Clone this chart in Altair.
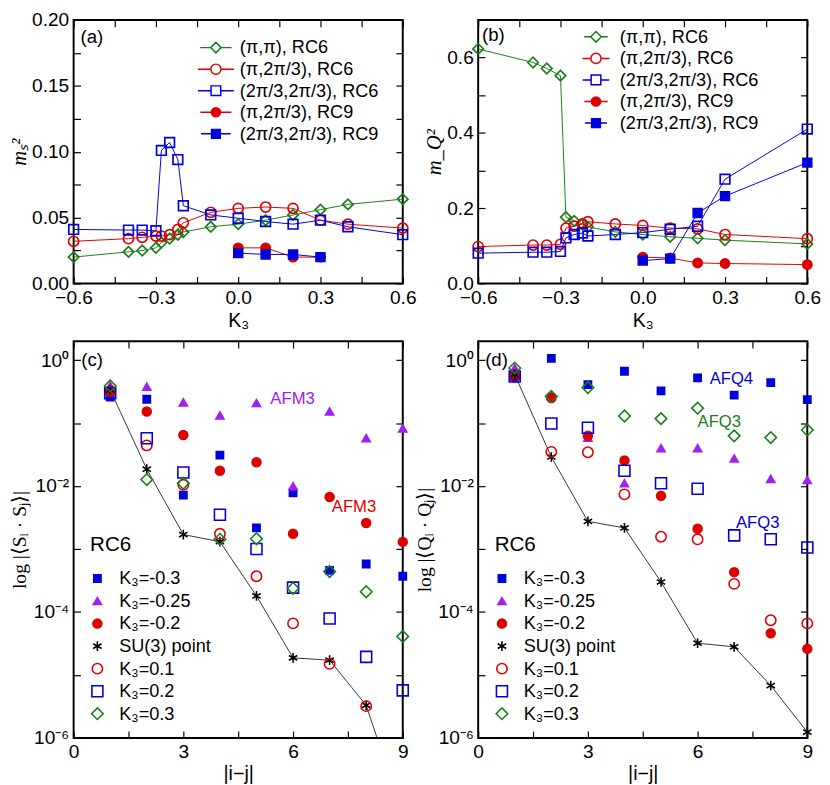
import altair as alt
import pandas as pd

GREEN = "#1b7d1b"
RED = "#dd0000"
BLUE = "#0000dd"
PURPLE = "#a020f0"
BLACK = "#000000"
FONT = "Liberation Sans"
SERIF = "Liberation Serif"
TICK = 7

# ---------------- panel (a): m_S^2 vs K3 ----------------
K_A = [-0.6, -0.4, -0.35, -0.3, -0.28, -0.25, -0.22, -0.2, -0.1, 0.0, 0.1, 0.2, 0.3, 0.4, 0.6]
A_PIPI_RC6 = [0.020, 0.024, 0.025, 0.027, 0.031, 0.034, 0.037, 0.039, 0.043, 0.045, 0.048, 0.052, 0.056, 0.060, 0.064]
A_PI23_RC6 = [0.032, 0.034, 0.035, 0.036, 0.036, 0.037, 0.041, 0.046, 0.054, 0.057, 0.058, 0.057, 0.048, 0.045, 0.042]
A_2323_RC6 = [0.041, 0.0405, 0.0405, 0.040, 0.101, 0.107, 0.094, 0.059, 0.052, 0.0495, 0.047, 0.045, 0.048, 0.043, 0.037]
K_A9 = [0.0, 0.1, 0.2, 0.3]
A_PI23_RC9 = [0.027, 0.027, 0.020, 0.020]
A_2323_RC9 = [0.023, 0.022, 0.022, 0.020]

# ---------------- panel (b): m_Q^2 vs K3 ----------------
K_B = [-0.6, -0.4, -0.35, -0.3, -0.28, -0.25, -0.22, -0.2, -0.1, 0.0, 0.1, 0.2, 0.3, 0.6]
B_PIPI_RC6 = [0.623, 0.587, 0.571, 0.552, 0.176, 0.166, 0.158, 0.150, 0.137, 0.130, 0.124, 0.120, 0.115, 0.105]
B_PI23_RC6 = [0.098, 0.102, 0.102, 0.104, 0.147, 0.152, 0.158, 0.164, 0.158, 0.154, 0.147, 0.145, 0.130, 0.119]
B_2323_RC6 = [0.0805, 0.083, 0.083, 0.085, 0.121, 0.130, 0.134, 0.126, 0.130, 0.135, 0.144, 0.152, 0.277, 0.410]
K_B9 = [0.0, 0.1, 0.2, 0.3, 0.6]
B_PI23_RC9 = [0.070, 0.0675, 0.0545, 0.053, 0.050]
B_2323_RC9 = [0.0606, 0.066, 0.187, 0.232, 0.321]

# ---------------- panels (c),(d): correlations vs |i-j| ----------------
DIST = [1, 2, 3, 4, 5, 6, 7, 8, 9]
C_KM030 = [0.26, 0.24, 0.0072, 0.031, 0.00217, 0.0078, 4.6e-4, 5.8e-4, 3.7e-4]
C_KM025 = [0.39, 0.38, 0.214, 0.133, 0.209, 0.0100, 0.153, 0.0577, 0.0826]
C_KM020 = [0.33, 0.153, 0.065, 0.0175, 0.024, 0.00175, 0.0067, 0.0026, 0.0013]
C_SU3 = [0.337, 0.0186, 0.0017, 0.00131, 1.8e-4, 1.87e-5, 1.72e-5, 3.3e-6, 6e-8]
C_K010 = [0.32, 0.0443, 0.0105, 0.00175, 3.7e-4, 6.6e-5, 1.5e-5, 3.2e-6]
C_K020 = [0.30, 0.0577, 0.0165, 0.0035, 0.0010, 2.44e-4, 7.9e-5, 1.94e-5, 5.7e-6]
C_K030 = [0.39, 0.0127, 0.0111, 0.00143, 0.00146, 2.38e-4, 4.4e-4, 2.1e-4, 4.1e-5]

D_KM030 = [0.55, 1.07, 0.41, 0.667, 0.326, 0.525, 0.279, 0.44, 0.236]
D_KM025 = [0.75, 0.27, 0.059, 0.0111, 0.040, 0.040, 0.0275, 0.013, 0.0125]
D_KM020 = [0.60, 0.25, 0.063, 0.0256, 0.0070, 0.0021, 4.3e-4, 4.6e-5, 2.6e-5]
D_SU3 = [0.59, 0.029, 0.00275, 0.00217, 3.0e-4, 3.2e-5, 2.8e-5, 6.8e-6, 1.24e-6]
D_K010 = [0.55, 0.035, 0.0345, 0.0074, 0.00157, 0.00143, 2.8e-4, 7.4e-5, 6.6e-5]
D_K020 = [0.55, 0.0986, 0.0845, 0.0175, 0.0111, 0.0091, 0.00165, 0.00143, 0.00106]
D_K030 = [0.75, 0.266, 0.367, 0.13, 0.118, 0.173, 0.0628, 0.059, 0.078]

# annotations: text, x, y, colour, font size
A_NOTES = [("(a)", -0.575, 0.187, BLACK, 19)]
B_NOTES = [("(b)", -0.586, 0.66, BLACK, 19)]
C_NOTES = [("(c)", 0.21, 1.0, BLACK, 19), ("AFM3", 5.38, 0.24, PURPLE, 17),
           ("AFM3", 7.06, 0.0047, RED, 17), ("RC6", 0.45, 0.00115, BLACK, 21)]
D_NOTES = [("(d)", 0.19, 1.0, BLACK, 19), ("AFQ4", 6.33, 0.507, BLUE, 17), ("AFQ3", 6.0, 0.104, GREEN, 17),
           ("AFQ3", 7.05, 0.00259, BLUE, 17), ("RC6", 0.45, 0.00115, BLACK, 21)]

TOP_NAMES = ["(π,π), RC6", "(π,2π/3), RC6", "(2π/3,2π/3), RC6", "(π,2π/3), RC9", "(2π/3,2π/3), RC9"]
TOP_STROKES = [GREEN, RED, BLUE, RED, BLUE]
TOP_FILLS = ["transparent", "transparent", "transparent", RED, BLUE]
TOP_SHAPES = ["diamond", "circle", "square", "circle", "square"]
TOP_SIZES = [115, 80, 75, 90, 90]

BOT_NAMES = ["K₃=-0.3", "K₃=-0.25", "K₃=-0.2", "SU(3) point", "K₃=0.1", "K₃=0.2", "K₃=0.3"]
BOT_STROKES = [BLUE, PURPLE, RED, BLACK, RED, BLUE, GREEN]
BOT_FILLS = [BLUE, PURPLE, RED, "transparent", "transparent", "transparent", "transparent"]
ASTERISK = "M0,-1L0,1M-0.866,-0.5L0.866,0.5M-0.866,0.5L0.866,-0.5"
BOT_SHAPES = ["square", "triangle-up", "circle", ASTERISK, "circle", "square", "diamond"]
BOT_SIZES = [55, 140, 50, 144, 75, 100, 170]

CORE = {"diamond": "M-1,0L0,-1L1,0L0,1Z",
        "circle": "M1,0A1,1,0,1,1,-1,0A1,1,0,1,1,1,0Z",
        "square": "M-1,-1L1,-1L1,1L-1,1Z"}

LABEL_SIZE = 19.5


def whisker(shape, size, half_px):
    r = size ** 0.5 / 2
    u = round(half_px / r, 3)
    return f"{CORE[shape]}M{-u},0L-1,0M1,0L{u},0"


def series_df(names, xs_list, ys_list):
    rows = []
    for i, (n, xs, ys) in enumerate(zip(names, xs_list, ys_list)):
        for x, y in zip(xs, ys):
            rows.append({"series": n, "x": x, "y": y, "idx": i})
    return pd.DataFrame(rows)


def main_axis(orient, values, expr, title, **kw):
    return alt.Axis(orient=orient, values=values, labelExpr=expr, title=title, offset=-TICK,
                    tickSize=TICK, domain=False, grid=False, labelOverlap=False, labelFlush=False, **kw)


def mirror_axis(orient, values):
    return alt.Axis(orient=orient, values=values, labels=False, title=None, offset=-TICK,
                    tickSize=TICK, domain=False, grid=False)


def note_layers(notes, xs, ys):
    layers = []
    for t, x, y, c, s in notes:
        d = pd.DataFrame({"t": [t], "x": [x], "y": [y]})
        layers.append(alt.Chart(d).mark_text(align="left", baseline="middle", font=FONT, fontSize=s,
                                             color=c).encode(
            x=alt.X("x:Q", scale=xs, axis=None),
            y=alt.Y("y:Q", scale=ys, axis=None),
            text="t:N"))
    return layers


X_TOP_VALUES = [-0.6, -0.45, -0.3, -0.15, 0.0, 0.15, 0.3, 0.45, 0.6]
X_TOP_EXPR = "abs(datum.value/0.3 - round(datum.value/0.3)) < 0.001 ? format(datum.value, '.1f') : ''"
X_BOT_VALUES = [0, 1.5, 3, 4.5, 6, 7.5, 9]
X_BOT_EXPR = "abs(datum.value/3 - round(datum.value/3)) < 0.001 ? format(datum.value, 'd') : ''"
LOG_VALUES = [1e-6, 1e-5, 1e-4, 1e-3, 1e-2, 1e-1, 1]
LOG_EXPR = ("round(log(datum.value)/LN10) == 0 ? '10⁰' : round(log(datum.value)/LN10) == -2 ? '10⁻²' : "
            "round(log(datum.value)/LN10) == -4 ? '10⁻⁴' : round(log(datum.value)/LN10) == -6 ? '10⁻⁶' : ''")


def top_panel(xs_list, ys_list, ydom, yvals, yexpr, ytitle, notes, legx, legy, half_px, height):
    df = series_df(TOP_NAMES, xs_list, ys_list)
    xs = alt.Scale(domain=[-0.6, 0.6], nice=False, zero=False)
    ys = alt.Scale(domain=ydom, nice=False, zero=False)
    lines = alt.Chart(df).mark_line(strokeWidth=1).encode(
        x=alt.X("x:Q", scale=xs, axis=mirror_axis("top", X_TOP_VALUES)),
        y=alt.Y("y:Q", scale=ys, axis=mirror_axis("right", yvals)),
        stroke=alt.Stroke("series:N", scale=alt.Scale(domain=TOP_NAMES, range=TOP_STROKES), legend=None),
        detail="series:N",
    )
    points = alt.Chart(df).mark_point(opacity=1, strokeWidth=1.7).encode(
        x=alt.X("x:Q", scale=xs, axis=main_axis("bottom", X_TOP_VALUES, X_TOP_EXPR, "K₃",
                                              labelPadding=5, titlePadding=4)),
        y=alt.Y("y:Q", scale=ys, axis=main_axis("left", yvals, yexpr, ytitle, labelPadding=5,
                                              titlePadding=2, titleFont=SERIF, titleFontStyle="italic",
                                              titleFontSize=21)),
        shape=alt.Shape("series:N", scale=alt.Scale(domain=TOP_NAMES, range=TOP_SHAPES), legend=None),
        stroke=alt.Stroke("series:N", scale=alt.Scale(domain=TOP_NAMES, range=TOP_STROKES), legend=None),
        fill=alt.Fill("series:N", scale=alt.Scale(domain=TOP_NAMES, range=TOP_FILLS), legend=None),
        size=alt.Size("series:N", scale=alt.Scale(domain=TOP_NAMES, range=TOP_SIZES), legend=None),
        order=alt.Order("idx:Q"),
    )
    leg = alt.Legend(title=None, orient="none", legendX=legx, legendY=legy, labelFont=FONT,
                     labelFontSize=18.5, labelColor="black", labelOffset=15, rowPadding=3,
                     symbolOpacity=1, symbolStrokeWidth=1.5, padding=0)
    wshapes = [whisker(s, z, half_px) for s, z in zip(TOP_SHAPES, TOP_SIZES)]
    legend_layer = alt.Chart(df).mark_point(opacity=0, strokeWidth=1.5).encode(
        x=alt.X("x:Q", scale=xs, axis=None),
        y=alt.Y("y:Q", scale=ys, axis=None),
        shape=alt.Shape("series:N", scale=alt.Scale(domain=TOP_NAMES, range=wshapes), legend=leg),
        stroke=alt.Stroke("series:N", scale=alt.Scale(domain=TOP_NAMES, range=TOP_STROKES), legend=leg),
        fill=alt.Fill("series:N", scale=alt.Scale(domain=TOP_NAMES, range=TOP_FILLS), legend=leg),
        size=alt.Size("series:N", scale=alt.Scale(domain=TOP_NAMES, range=TOP_SIZES), legend=leg),
    )
    return alt.layer(lines, points, legend_layer, *note_layers(notes, xs, ys)).resolve_scale(
        shape="independent", stroke="independent", fill="independent", size="independent"
    ).resolve_axis(x="independent", y="independent").properties(width=336, height=height)


def bottom_panel(ys_list, ytitle, notes, legx, legy):
    xs_list = [DIST[:len(v)] for v in ys_list]
    df = series_df(BOT_NAMES, xs_list, ys_list)
    su3 = df[df["series"] == "SU(3) point"]
    xs = alt.Scale(domain=[0, 9], nice=False, zero=False)
    ys = alt.Scale(type="log", domain=[1e-6, 2], nice=False)
    line = alt.Chart(su3).mark_line(strokeWidth=0.8, color=BLACK, clip=True).encode(
        x=alt.X("x:Q", scale=xs, axis=mirror_axis("top", X_BOT_VALUES)),
        y=alt.Y("y:Q", scale=ys, axis=mirror_axis("right", LOG_VALUES)),
    )
    leg = alt.Legend(title=None, orient="none", legendX=legx, legendY=legy, labelFont=FONT,
                     labelFontSize=18.5, labelColor="black", labelOffset=13, rowPadding=4,
                     symbolOpacity=1, symbolStrokeWidth=1.6, padding=0)
    points = alt.Chart(df).transform_filter(alt.datum.y >= 1e-6).mark_point(opacity=1, strokeWidth=1.6).encode(
        x=alt.X("x:Q", scale=xs, axis=main_axis("bottom", X_BOT_VALUES, X_BOT_EXPR, "|i−j|",
                                              labelPadding=5, titlePadding=3)),
        y=alt.Y("y:Q", scale=ys, axis=main_axis("left", LOG_VALUES, LOG_EXPR, ytitle, labelPadding=5,
                                              titlePadding=3, titleFont=SERIF, titleFontSize=20)),
        shape=alt.Shape("series:N", scale=alt.Scale(domain=BOT_NAMES, range=BOT_SHAPES), legend=leg),
        stroke=alt.Stroke("series:N", scale=alt.Scale(domain=BOT_NAMES, range=BOT_STROKES), legend=leg),
        fill=alt.Fill("series:N", scale=alt.Scale(domain=BOT_NAMES, range=BOT_FILLS), legend=leg),
        size=alt.Size("series:N", scale=alt.Scale(domain=BOT_NAMES, range=BOT_SIZES), legend=leg),
        order=alt.Order("idx:Q"),
    )
    return alt.layer(line, points, *note_layers(notes, xs, ys)).resolve_axis(
        x="independent", y="independent").properties(width=336, height=405)


TOP_H = 269
pa = top_panel([K_A, K_A, K_A, K_A9, K_A9], [A_PIPI_RC6, A_PI23_RC6, A_2323_RC6, A_PI23_RC9, A_2323_RC9],
               [0, 0.2], [i * 0.025 for i in range(9)],
               "abs(datum.value/0.05 - round(datum.value/0.05)) < 0.001 ? format(datum.value, '.2f') : ''",
               "mₛ²", A_NOTES, 136, 19, 16, TOP_H)
pb = top_panel([K_B, K_B, K_B, K_B9, K_B9], [B_PIPI_RC6, B_PI23_RC6, B_2323_RC6, B_PI23_RC9, B_2323_RC9],
               [0, 0.7], [i * 0.1 for i in range(8)],
               "abs(datum.value/0.2 - round(datum.value/0.2)) < 0.001 && datum.value < 0.65 ? format(datum.value, '.1f') : ''",
               "m_Q²", B_NOTES, 111, 8, 12, TOP_H)
pc = bottom_panel([C_KM030, C_KM025, C_KM020, C_SU3, C_K010, C_K020, C_K030],
                  "log |⟨Sᵢ · Sⱼ⟩|", C_NOTES, 15, 233)
pdd = bottom_panel([D_KM030, D_KM025, D_KM020, D_SU3, D_K010, D_K020, D_K030],
                   "log |⟨Qᵢ · Qⱼ⟩|", D_NOTES, 15, 233)

chart = alt.concat(pa, pb, pc, pdd, columns=2, spacing={"row": 59, "column": 77}, bounds="flush").resolve_scale(
    shape="independent", stroke="independent", fill="independent", size="independent"
).properties(
    padding={"top": -7, "left": 0, "right": 0, "bottom": 0}, background="white"
).configure_view(stroke="black", strokeWidth=2).configure_axis(
    labelFont=FONT, labelFontSize=LABEL_SIZE, labelColor="black", tickColor="black", tickWidth=1.2,
    titleFont=FONT, titleFontSize=20, titleColor="black", titleFontWeight="normal"
)

chart.save("out.html", embed_options={"renderer": "svg", "actions": False})
